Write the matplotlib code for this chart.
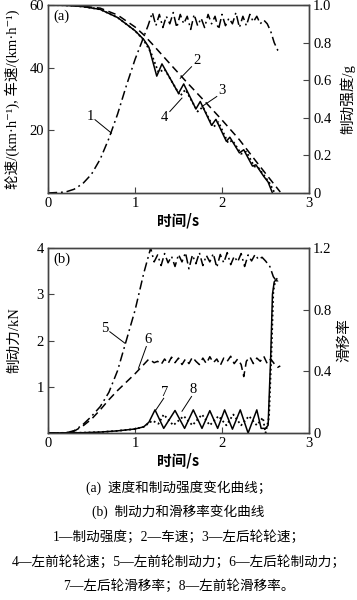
import matplotlib
matplotlib.use("Agg")
import matplotlib.pyplot as plt

plt.rcParams['font.family'] = ['Liberation Serif', 'Noto Sans CJK SC', 'DejaVu Serif']
plt.rcParams['axes.unicode_minus'] = False

# ---------------- data (a) ----------------
# 1: braking intensity (g), right axis
t1 = [0, 0.2, 0.3, 0.4, 0.5, 0.6, 0.7, 0.8, 0.9, 1.0, 1.1, 1.15, 1.2, 1.24, 1.28, 1.32,
      1.36, 1.4, 1.44, 1.48, 1.52, 1.56, 1.6, 1.64, 1.68, 1.72, 1.76, 1.8, 1.84, 1.88,
      1.92, 1.96, 2.0, 2.04, 2.08, 2.12, 2.16, 2.2, 2.24, 2.28, 2.32, 2.36, 2.4, 2.44,
      2.48, 2.52, 2.56, 2.6, 2.64, 2.67]
b1 = [0, 0.005, 0.02, 0.05, 0.1, 0.18, 0.29, 0.42, 0.57, 0.71, 0.83, 0.89, 0.96, 0.89,
      0.95, 0.88, 0.94, 0.90, 0.96, 0.88, 0.95, 0.90, 0.94, 0.87, 0.95, 0.89, 0.93, 0.88,
      0.95, 0.90, 0.94, 0.87, 0.95, 0.89, 0.93, 0.90, 0.96, 0.88, 0.94, 0.89, 0.95, 0.91,
      0.94, 0.90, 0.92, 0.90, 0.86, 0.80, 0.76, 0.75]
# 2: vehicle speed (km/h)
t2 = [0, 0.2, 0.4, 0.6, 0.8, 1.0, 1.1, 1.2, 1.4, 1.6, 1.8, 2.0, 2.2, 2.4, 2.55, 2.67]
v2 = [60, 59.9, 59.6, 59.0, 56.8, 53.0, 50.5, 47.5, 41.3, 35.2, 29.3, 23.3, 17.0, 9.8, 4.5, 0.3]
# 3: left rear wheel speed
t3 = [0, 0.2, 0.4, 0.6, 0.8, 1.0, 1.1, 1.16, 1.25, 1.31, 1.5, 1.56, 1.7, 1.75, 1.88,
      1.93, 2.05, 2.09, 2.2, 2.25, 2.35, 2.39, 2.48, 2.53, 2.58]
v3 = [60, 59.9, 59.5, 58.6, 56.0, 51.8, 49.0, 46.5, 37.3, 41.2, 31.8, 34.8, 26.8, 29.2,
      21.6, 23.5, 16.5, 17.8, 12.8, 13.8, 8.6, 9.0, 5.3, 3.5, 0]
# 4: left front wheel speed
t4 = [0, 0.2, 0.4, 0.6, 0.8, 1.0, 1.1, 1.18, 1.27, 1.34, 1.52, 1.58, 1.72, 1.78, 1.9,
      1.96, 2.07, 2.12, 2.22, 2.28, 2.37, 2.42, 2.5, 2.55, 2.6]
v4 = [60, 59.9, 59.5, 58.6, 56.0, 51.8, 48.8, 45.0, 38.5, 39.5, 31.0, 33.0, 26.0, 27.5,
      21.0, 22.6, 16.0, 16.8, 12.5, 13.2, 8.5, 8.0, 5.0, 3.0, 0.3]

# ---------------- data (b) ----------------
# 5: left front braking force (kN)
t5 = [0, 0.2, 0.3, 0.4, 0.5, 0.6, 0.7, 0.8, 0.9, 1.0, 1.1, 1.18, 1.22, 1.26, 1.3, 1.34,
      1.38, 1.42, 1.46, 1.5, 1.54, 1.58, 1.62, 1.66, 1.7, 1.74, 1.78, 1.82, 1.86, 1.9,
      1.94, 1.98, 2.02, 2.06, 2.1, 2.14, 2.18, 2.22, 2.26, 2.3, 2.34, 2.38, 2.42, 2.46,
      2.5, 2.55, 2.59, 2.62, 2.65]
f5 = [0, 0.0, 0.05, 0.18, 0.36, 0.57, 0.88, 1.35, 2.0, 2.65, 3.45, 4.0, 3.7, 3.85,
      3.62, 3.88, 3.68, 3.82, 3.6, 3.86, 3.7, 3.9, 3.55, 3.85, 3.66, 3.9, 3.62, 3.84,
      3.7, 3.88, 3.58, 3.86, 3.68, 3.9, 3.64, 3.82, 3.7, 3.88, 3.6, 3.85, 3.72, 3.86,
      3.75, 3.8, 3.72, 3.6, 3.38, 3.3, 3.28]
# 6: left rear braking force (kN)
t6 = [0, 0.2, 0.3, 0.4, 0.5, 0.6, 0.7, 0.8, 0.9, 1.0, 1.1, 1.16, 1.22, 1.26, 1.3, 1.34,
      1.38, 1.42, 1.46, 1.5, 1.54, 1.58, 1.62, 1.66, 1.7, 1.74, 1.78, 1.82, 1.86, 1.9,
      1.94, 1.98, 2.02, 2.06, 2.1, 2.14, 2.18, 2.22, 2.25, 2.28, 2.32, 2.36, 2.4, 2.44,
      2.48, 2.52, 2.56, 2.6, 2.64, 2.67]
f6 = [0, 0, 0.04, 0.15, 0.3, 0.5, 0.72, 0.92, 1.1, 1.28, 1.48, 1.6, 1.52, 1.55, 1.48,
      1.6, 1.5, 1.64, 1.52, 1.62, 1.48, 1.6, 1.5, 1.64, 1.55, 1.48, 1.62, 1.5, 1.65,
      1.52, 1.6, 1.46, 1.62, 1.55, 1.66, 1.5, 1.6, 1.48, 1.22, 1.55, 1.65, 1.5, 1.62,
      1.55, 1.66, 1.5, 1.6, 1.5, 1.42, 1.45]
# 7: left rear wheel slip ratio, right axis
t7 = [0, 0.4, 0.6, 0.8, 1.0, 1.1, 1.16, 1.23, 1.33, 1.46, 1.57, 1.67, 1.77, 1.86, 1.95,
      2.03, 2.12, 2.21, 2.3, 2.4, 2.45, 2.5, 2.53, 2.56, 2.58, 2.6, 2.63]
s7 = [0, 0.002, 0.006, 0.014, 0.026, 0.04, 0.07, 0.15, 0.03, 0.146, 0.03, 0.15, 0.03,
      0.145, 0.03, 0.15, 0.025, 0.15, 0.0, 0.15, 0.03, 0.03, 0.05, 0.5, 0.9, 0.98, 1.0]
# 8: left front wheel slip ratio, right axis
t8 = [0, 0.4, 0.6, 0.8, 1.0, 1.1, 1.2, 1.27, 1.33, 1.44, 1.56, 1.66, 1.77, 1.86, 1.96,
      2.05, 2.13, 2.22, 2.31, 2.4, 2.47, 2.5, 2.54, 2.57, 2.59, 2.61, 2.64]
s8 = [0, 0.002, 0.006, 0.014, 0.026, 0.04, 0.08, 0.06, 0.12, 0.05, 0.11, 0.05, 0.12,
      0.05, 0.11, 0.05, 0.12, 0.05, 0.11, 0.05, 0.1, 0.0, 0.1, 0.55, 0.92, 0.98, 0.99]

cn = ['Noto Sans CJK SC', 'DejaVu Sans']
fam = ['Liberation Serif', 'Noto Sans CJK SC', 'DejaVu Serif']
frame_c = '#444444'

fig = plt.figure(figsize=(3.57, 6.0), dpi=100)
W, H = 357, 600
def rect(l, t, r, b):
    return [l / W, 1 - b / H, (r - l) / W, (b - t) / H]

def style(ax):
    for s in ax.spines.values():
        s.set_color(frame_c)
        s.set_linewidth(1.0)
    ax.tick_params(direction='in', length=4, width=0.8, labelsize=10.5, color=frame_c, pad=3)

lw = 1.1
# ---------- (a) ----------
axa = fig.add_axes(rect(48, 5, 309, 193))
axa2 = axa.twinx()
axa.plot(t2, v2, color='black', lw=lw, ls=(0, (5, 3)))
axa.plot(t3, v3, color='black', lw=lw, ls='-')
axa.plot(t4, v4, color='black', lw=1.3, ls=(0, (1, 1.5)))
axa2.plot(t1, b1, color='black', lw=lw, ls=(0, (6, 2.5, 1.2, 2.5)))
axa.set_xlim(0, 3)
axa.set_ylim(0, 60)
axa2.set_ylim(0, 1.0)
axa.set_xticks([0, 1, 2, 3])
axa.set_yticks([20, 40, 60])
axa2.set_yticks([0, 0.2, 0.4, 0.6, 0.8, 1.0])
axa2.set_yticklabels(['0', '0.2', '0.4', '0.6', '0.8', '1.0'])
style(axa); style(axa2)
axa.set_xlabel('时间/s', family=cn, fontsize=10.5, fontweight='bold', labelpad=2)
axa.set_ylabel('轮速/(km·h⁻¹), 车速/(km·h⁻¹)', family=fam, fontsize=10.5)
axa.yaxis.set_label_coords(-0.107, 0.5)
axa2.set_ylabel('制动强度/g', family=fam, fontsize=10.5)
axa2.yaxis.set_label_coords(1.12, 0.5)
axa.text(0.02, 0.975, '(a)', transform=axa.transAxes, ha='left', va='top', fontsize=10.5)
# annotations (a)
ann = dict(color='black', lw=0.7)
axa.plot([0.54, 0.73], [23.4, 19.1], **ann)
axa.text(0.49, 24.5, '1', ha='center', va='center', fontsize=10.5)
axa.plot([1.65, 1.52], [40.3, 36.6], **ann)
axa.text(1.71, 42.2, '2', ha='center', va='center', fontsize=10.5)
axa.plot([1.94, 1.77], [30.8, 27.6], **ann)
axa.text(2.0, 32.6, '3', ha='center', va='center', fontsize=10.5)
axa.plot([1.40, 1.54], [26.0, 30.3], **ann)
axa.text(1.34, 24.2, '4', ha='center', va='center', fontsize=10.5)

# ---------- (b) ----------
axb = fig.add_axes(rect(48, 248, 309, 433))
axb2 = axb.twinx()
axb.plot(t5, f5, color='black', lw=lw, ls=(0, (6, 2.5, 1.2, 2.5)))
axb.plot(t6, f6, color='black', lw=lw, ls=(0, (5, 3)))
axb2.plot(t7, s7, color='black', lw=lw, ls='-')
axb2.plot(t8, s8, color='black', lw=1.3, ls=(0, (1, 1.5)))
axb.set_xlim(0, 3)
axb.set_ylim(0, 4)
axb2.set_ylim(0, 1.2)
axb.set_xticks([0, 1, 2, 3])
axb.set_yticks([1, 2, 3, 4])
axb2.set_yticks([0, 0.4, 0.8, 1.2])
axb2.set_yticklabels(['0', '0.4', '0.8', '1.2'])
style(axb); style(axb2)
axb.set_xlabel('时间/s', family=cn, fontsize=10.5, fontweight='bold', labelpad=2)
axb.set_ylabel('制动力/kN', family=fam, fontsize=10.5)
axb.yaxis.set_label_coords(-0.103, 0.5)
axb2.set_ylabel('滑移率', family=fam, fontsize=10.5)
axb2.yaxis.set_label_coords(1.11, 0.5)
axb.text(0.02, 0.975, '(b)', transform=axb.transAxes, ha='left', va='top', fontsize=10.5)
axb.plot([0.71, 0.885], [2.19, 1.94], **ann)
axb.text(0.655, 2.27, '5', ha='center', va='center', fontsize=10.5)
axb.plot([1.13, 1.04], [1.87, 1.40], **ann)
axb.text(1.15, 2.02, '6', ha='center', va='center', fontsize=10.5)
axb.plot([1.33, 1.23], [0.75, 0.47], **ann)
axb.text(1.345, 0.87, '7', ha='center', va='center', fontsize=10.5)
axb.plot([1.65, 1.54], [0.79, 0.47], **ann)
axb.text(1.67, 0.93, '8', ha='center', va='center', fontsize=10.5)

# ---------- captions ----------
caps = ['(a)  速度和制动强度变化曲线；',
        '(b)  制动力和滑移率变化曲线',
        '1—制动强度；2—车速；3—左后轮轮速；',
        '4—左前轮轮速；5—左前轮制动力；6—左后轮制动力；',
        '7—左后轮滑移率；8—左前轮滑移率。']
ys = [488, 512, 537, 562, 586]
for c, y in zip(caps, ys):
    fig.text(0.5, 1 - y / H, c, ha='center', va='center', family=fam, fontsize=9.8)

fig.savefig('out.png', dpi=100)
